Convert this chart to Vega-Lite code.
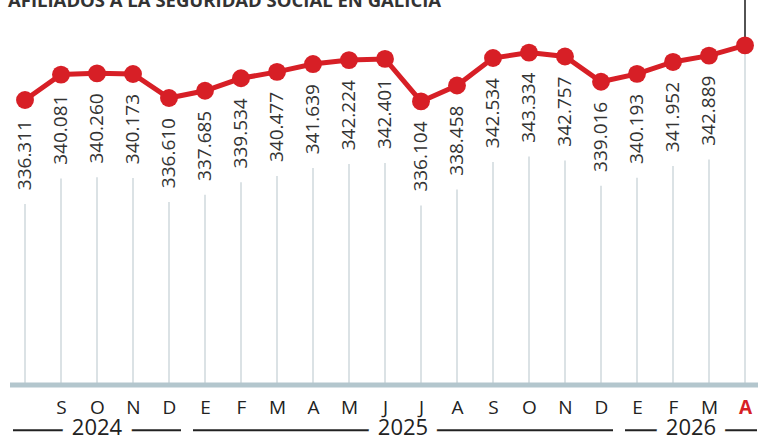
{
  "$schema": "https://vega.github.io/schema/vega-lite/v6.json",
  "width": 758,
  "height": 385,
  "autosize": {"type": "none"},
  "padding": {"top": 0, "left": 0, "right": 0, "bottom": 56},
  "background": "white",
  "config": {"view": {"stroke": null}, "font": "Open Sans"},
  "title": {
    "text": "AFILIADOS A LA SEGURIDAD SOCIAL EN GALICIA",
    "anchor": "start",
    "frame": "group",
    "dx": 8,
    "offset": -11,
    "fontSize": 18.5,
    "fontWeight": "bold",
    "color": "#333333"
  },
  "data": {
    "values": [
      {"periodo": "2024-08", "anio": 2024, "afiliados": 336.311},
      {"periodo": "2024-09", "anio": 2024, "afiliados": 340.081},
      {"periodo": "2024-10", "anio": 2024, "afiliados": 340.260},
      {"periodo": "2024-11", "anio": 2024, "afiliados": 340.173},
      {"periodo": "2024-12", "anio": 2024, "afiliados": 336.610},
      {"periodo": "2025-01", "anio": 2025, "afiliados": 337.685},
      {"periodo": "2025-02", "anio": 2025, "afiliados": 339.534},
      {"periodo": "2025-03", "anio": 2025, "afiliados": 340.477},
      {"periodo": "2025-04", "anio": 2025, "afiliados": 341.639},
      {"periodo": "2025-05", "anio": 2025, "afiliados": 342.224},
      {"periodo": "2025-06", "anio": 2025, "afiliados": 342.401},
      {"periodo": "2025-07", "anio": 2025, "afiliados": 336.104},
      {"periodo": "2025-08", "anio": 2025, "afiliados": 338.458},
      {"periodo": "2025-09", "anio": 2025, "afiliados": 342.534},
      {"periodo": "2025-10", "anio": 2025, "afiliados": 343.334},
      {"periodo": "2025-11", "anio": 2025, "afiliados": 342.757},
      {"periodo": "2025-12", "anio": 2025, "afiliados": 339.016},
      {"periodo": "2026-01", "anio": 2026, "afiliados": 340.193},
      {"periodo": "2026-02", "anio": 2026, "afiliados": 341.952},
      {"periodo": "2026-03", "anio": 2026, "afiliados": 342.889},
      {"periodo": "2026-04", "anio": 2026, "afiliados": 344.4}
    ]
  },
  "transform": [
    {"window": [{"op": "row_number", "as": "idx"}], "sort": [{"field": "periodo", "order": "ascending"}]}
  ],
  "encoding": {
    "x": {
      "field": "idx",
      "type": "quantitative",
      "scale": {"domain": [1, 21], "range": [25, 745], "nice": false, "zero": false},
      "axis": {
        "title": null,
        "values": [1, 2, 3, 4, 5, 6, 7, 8, 9, 10, 11, 12, 13, 14, 15, 16, 17, 18, 19, 20, 21],
        "labelExpr": "datum.value == 1 ? '' : substring('EFMAMJJASOND', (datum.value + 6) % 12, (datum.value + 6) % 12 + 1)",
        "grid": false,
        "domain": false,
        "ticks": false,
        "labelPadding": 13,
        "labelFontSize": 19,
        "labelFont": "Open Sans",
        "labelColor": {"condition": {"test": "datum.value == 21", "value": "#d71f26"}, "value": "#222222"},
        "labelFontWeight": {"condition": {"test": "datum.value == 21", "value": "bold"}, "value": "normal"},
        "labelFlush": false,
        "labelOverlap": false,
        "zindex": 2
      }
    }
  },
  "layer": [
    {
      "transform": [{"filter": "datum.periodo != '2026-04'"}],
      "mark": {"type": "rule", "color": "#cfd8dd", "strokeWidth": 1.5, "yOffset": 104},
      "encoding": {
        "y": {
          "field": "afiliados",
          "type": "quantitative",
          "scale": {"domain": [294.09, 351.13], "nice": false, "zero": false},
          "axis": null
        },
        "y2": {"datum": 294.09}
      }
    },
    {
      "transform": [{"filter": "datum.periodo == '2026-04'"}],
      "mark": {"type": "rule", "color": "#cfd8dd", "strokeWidth": 1.5},
      "encoding": {
        "y": {"field": "afiliados", "type": "quantitative"},
        "y2": {"datum": 294.09}
      }
    },
    {
      "transform": [{"filter": "datum.periodo == '2026-04'"}],
      "mark": {"type": "rule", "color": "#1a1a1a", "strokeWidth": 1.5},
      "encoding": {
        "y": {"field": "afiliados", "type": "quantitative"},
        "y2": {"datum": 351.13}
      }
    },
    {
      "transform": [
        {"aggregate": [{"op": "min", "field": "idx", "as": "inicio"}, {"op": "max", "field": "idx", "as": "fin"}]}
      ],
      "mark": {"type": "rule", "color": "#b3c6cd", "strokeWidth": 5, "xOffset": -15, "x2Offset": 20},
      "encoding": {
        "x": {"field": "inicio", "type": "quantitative"},
        "x2": {"field": "fin"},
        "y": {"datum": 294.09, "type": "quantitative"}
      }
    },
    {
      "mark": {"type": "line", "color": "#d71f26", "strokeWidth": 5},
      "encoding": {
        "y": {"field": "afiliados", "type": "quantitative"}
      }
    },
    {
      "mark": {"type": "point", "filled": true, "opacity": 1, "color": "#d71f26", "size": 320},
      "encoding": {
        "y": {"field": "afiliados", "type": "quantitative"}
      }
    },
    {
      "transform": [{"filter": "datum.periodo != '2026-04'"}],
      "mark": {"type": "text", "angle": 270, "align": "right", "baseline": "middle", "dx": -20, "fontSize": 19, "font": "Open Sans", "color": "#333333"},
      "encoding": {
        "y": {"field": "afiliados", "type": "quantitative"},
        "text": {"field": "afiliados", "type": "quantitative", "format": ".3f"}
      }
    },
    {
      "transform": [
        {"aggregate": [{"op": "min", "field": "idx", "as": "inicio"}, {"op": "max", "field": "idx", "as": "fin"}], "groupby": ["anio"]}
      ],
      "mark": {"type": "rule", "color": "#222222", "strokeWidth": 2, "xOffset": -12, "x2Offset": 12},
      "encoding": {
        "x": {"field": "inicio", "type": "quantitative"},
        "x2": {"field": "fin"},
        "y": {"datum": 287.4, "type": "quantitative"}
      }
    },
    {
      "transform": [
        {"aggregate": [{"op": "mean", "field": "idx", "as": "centro"}], "groupby": ["anio"]}
      ],
      "mark": {"type": "text", "baseline": "middle", "align": "center", "fontSize": 22, "font": "Open Sans", "color": "white", "stroke": "white", "strokeWidth": 20},
      "encoding": {
        "x": {"field": "centro", "type": "quantitative"},
        "y": {"datum": 287.7, "type": "quantitative"},
        "text": {"field": "anio", "type": "nominal"}
      }
    },
    {
      "transform": [
        {"aggregate": [{"op": "mean", "field": "idx", "as": "centro"}], "groupby": ["anio"]}
      ],
      "mark": {"type": "text", "baseline": "middle", "align": "center", "fontSize": 22, "font": "Open Sans", "color": "#222222"},
      "encoding": {
        "x": {"field": "centro", "type": "quantitative"},
        "y": {"datum": 287.7, "type": "quantitative"},
        "text": {"field": "anio", "type": "nominal"}
      }
    }
  ]
}
